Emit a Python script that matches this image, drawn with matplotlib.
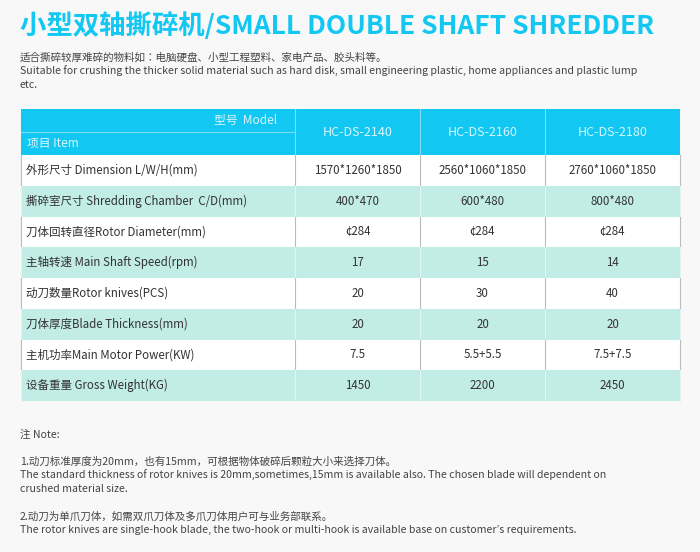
import matplotlib
matplotlib.use("Agg")
import matplotlib.pyplot as plt
from matplotlib.patches import Rectangle

FONT = ["Noto Sans CJK SC", "Noto Sans CJK JP", "Noto Sans CJK TC", "Noto Sans CJK KR", "DejaVu Sans"]
plt.rcParams["font.family"] = FONT
title = "小型双轴撕碎机/SMALL DOUBLE SHAFT SHREDDER"
intro = ["适合撕碎较厚难碎的物料如：电脑硬盘、小型工程塑料、家电产品、胶头料等。",
         "Suitable for crushing the thicker solid material such as hard disk, small engineering plastic, home appliances and plastic lump",
         "etc."]
models = ["HC-DS-2140", "HC-DS-2160", "HC-DS-2180"]
items = ["外形尺寸 Dimension L/W/H(mm)", "撕碎室尺寸 Shredding Chamber  C/D(mm)",
         "刀体回转直径Rotor Diameter(mm)", "主轴转速 Main Shaft Speed(rpm)",
         "动刀数量Rotor knives(PCS)", "刀体厚度Blade Thickness(mm)",
         "主机功率Main Motor Power(KW)", "设备重量 Gross Weight(KG)"]
col_2140 = ["1570*1260*1850", "400*470", "¢284", "17", "20", "20", "7.5", "1450"]
col_2160 = ["2560*1060*1850", "600*480", "¢284", "15", "30", "20", "5.5+5.5", "2200"]
col_2180 = ["2760*1060*1850", "800*480", "¢284", "14", "40", "20", "7.5+7.5", "2450"]
notes = [(435, "注 Note:"),
         (462, "1.动刀标准厚度为20mm，也有15mm，可根据物体破碎后颗粒大小来选择刀体。"),
         (475, "The standard thickness of rotor knives is 20mm,sometimes,15mm is available also. The chosen blade will dependent on"),
         (489, "crushed material size."),
         (517, "2.动刀为单爪刀体，如需双爪刀体及多爪刀体用户可与业务部联系。"),
         (530, "The rotor knives are single-hook blade, the two-hook or multi-hook is available base on customer’s requirements.")]

W, H = 700, 552
fig = plt.figure(figsize=(7, 5.52), dpi=100)
fig.patch.set_facecolor("#f8f8f8")
ax = fig.add_axes([0, 0, 1, 1])
ax.set_xlim(0, W); ax.set_ylim(H, 0); ax.axis("off")

cyan = "#12c8f2"; mint = "#c2ece6"; grey = "#444444"
ax.text(20, 26, title, fontsize=19, fontweight="bold", color=cyan, va="center")
for y, t in zip([57, 71, 85], intro):
    ax.text(20, y, t, fontsize=7.6, color=grey, va="center")

xs = [21, 295, 420, 545, 680]
top, hb = 109, 155
rh = (401 - hb) / len(items)
ax.add_patch(Rectangle((xs[0], top), xs[-1]-xs[0], hb-top, color=cyan, lw=0))
ax.plot([xs[0], xs[1]], [132, 132], color="#7fdcf7", lw=0.8)
for x in xs[1:-1]:
    ax.plot([x, x], [top, hb], color="#7fdcf7", lw=0.8)
ax.text(xs[1]-18, 120, "型号  Model", fontsize=8.5, color="#d8f5fd", ha="right", va="center")
ax.text(xs[0]+6, 143, "项目 Item", fontsize=8.5, color="#d8f5fd", va="center")
for j, m in enumerate(models):
    ax.text((xs[j+1]+xs[j+2])/2, 132, m, fontsize=9, color="#d8f5fd", ha="center", va="center")

cols = [col_2140, col_2160, col_2180]
for i, it in enumerate(items):
    y0 = hb + i*rh
    fc = "white" if i % 2 == 0 else mint
    ax.add_patch(Rectangle((xs[0], y0), xs[-1]-xs[0], rh, facecolor=fc, edgecolor="none"))
    for x in xs:
        ax.plot([x, x], [y0, y0+rh], color="#e0f5f2" if i % 2 else "#bbbbbb", lw=0.8)
    ax.text(xs[0]+5, y0+rh/2, it, fontsize=8.3, color="#333333", va="center")
    for j in range(3):
        ax.text((xs[j+1]+xs[j+2])/2, y0+rh/2, cols[j][i], fontsize=8.3, color="#333333",
                ha="center", va="center")

for y, t in notes:
    ax.text(20, y, t, fontsize=7.6, color=grey, va="center")

fig.savefig("out.png", dpi=100, facecolor=fig.get_facecolor())
